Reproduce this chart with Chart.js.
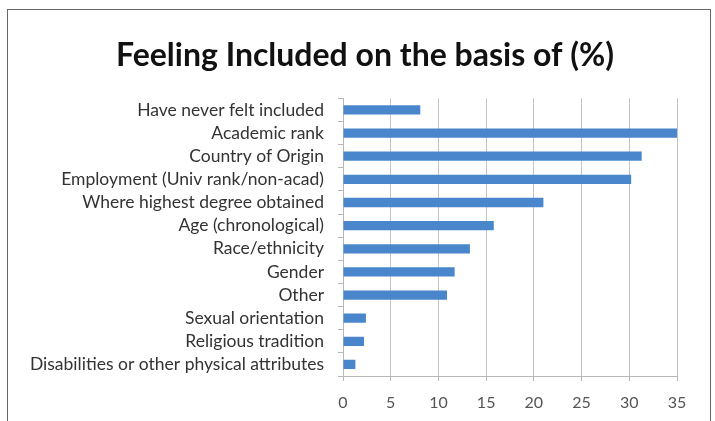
<!DOCTYPE html>
<html>
<head>
<meta charset="utf-8">
<script src="https://cdn.jsdelivr.net/npm/chart.js@4"></script>
<style>
  html, body { margin: 0; padding: 0; background: #fff; }
  #wrap { position: relative; width: 715px; height: 421px; overflow: hidden; }
  #frame {
    position: absolute; left: 7px; top: 9px; width: 704px; height: 430px;
    border: 1px solid #666; box-sizing: border-box;
  }
  canvas { position: absolute; left: 0; top: 0; }
</style>
</head>
<body>
<div id="wrap">
  <div id="frame"></div>
  <canvas id="inclusionChart" width="715" height="421"></canvas>
</div>
<script>
// Share of respondents feeling included, by basis (%)
const categories = [
    'Have never felt included',
    'Academic rank',
    'Country of Origin',
    'Employment (Univ rank/non-acad)',
    'Where highest degree obtained',
    'Age (chronological)',
    'Race/ethnicity',
    'Gender',
    'Other',
    'Sexual orientation',
    'Religious tradition',
    'Disabilities or other physical attributes'
];
const percents = [8.1, 35.0, 31.3, 30.2, 21.0, 15.8, 13.3, 11.7, 10.9, 2.4, 2.2, 1.3];
const xTicks = [0, 5, 10, 15, 20, 25, 30, 35];

const labelFont = "Lato, 'Open Sans', sans-serif";

new Chart(document.getElementById('inclusionChart'), {
    type: 'bar',
    data: {
        labels: categories,
        datasets: [{
            label: 'Feeling included (%)',
            data: percents,
            backgroundColor: '#4a86cc',
            barPercentage: 0.4,
            categoryPercentage: 1.0
        }]
    },
    options: {
        indexAxis: 'y',
        responsive: false,
        animation: false,
        layout: {
            padding: { left: 53, right: 38, top: 5, bottom: 0 }
        },
        plugins: {
            legend: { display: false },
            tooltip: { enabled: false },
            title: {
                display: true,
                text: 'Feeling Included on the basis of (%)',
                color: '#111',
                font: { family: labelFont, size: 32, weight: 'bold' },
                padding: { top: 31, bottom: 24 }
            }
        },
        scales: {
            x: {
                min: 0,
                max: 35,
                afterBuildTicks: scale => {
                    scale.ticks = xTicks.map(v => ({ value: v }));
                },
                afterFit: scale => { scale.height = 45; },
                border: { color: '#b8b8b8' },
                grid: {
                    color: '#c4c4c4',
                    tickLength: 5,
                    tickColor: '#b8b8b8'
                },
                ticks: {
                    color: '#555',
                    padding: 12,
                    font: { family: labelFont, size: 16 }
                }
            },
            y: {
                afterFit: scale => {
                    scale.width = 290;
                    // long labels run past the padded edge, so don't clip them
                    scale._computeLabelArea = () => null;
                },
                border: { color: '#b8b8b8' },
                grid: {
                    offset: true,
                    drawOnChartArea: false,
                    tickLength: 5,
                    tickColor: '#b8b8b8'
                },
                ticks: {
                    color: '#333',
                    padding: 14,
                    autoSkip: false,
                    font: { family: labelFont, size: 17.5 }
                }
            }
        }
    }
});
</script>
</body>
</html>
